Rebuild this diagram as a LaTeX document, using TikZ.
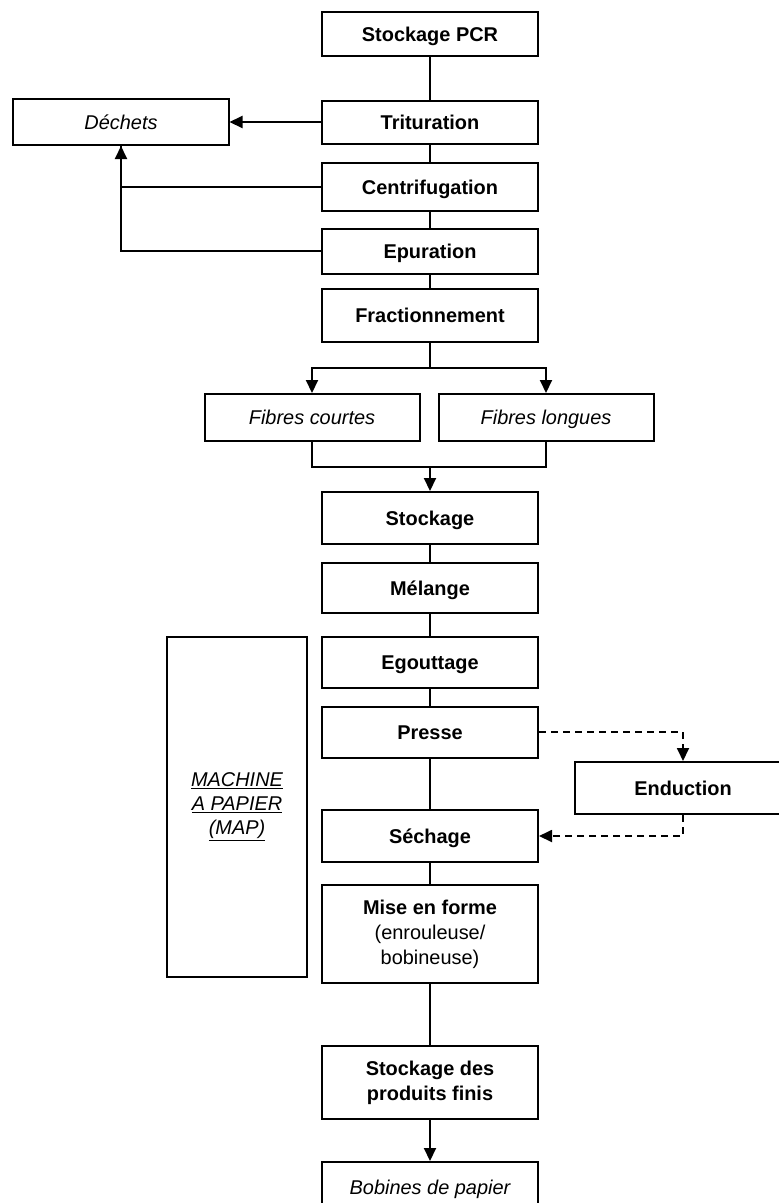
\documentclass[tikz,border=0pt]{standalone}
\usepackage{fontspec}
\setmainfont{Liberation Sans}
\usetikzlibrary{arrows.meta}
\begin{document}
\begin{tikzpicture}[x=1bp,y=-1bp,
  box/.style={draw, line width=2bp, minimum width=216bp, inner sep=0pt, align=center,
    font=\fontsize{20}{25}\selectfont\bfseries},
  ibox/.style={draw, line width=2bp, minimum width=215bp, inner sep=0pt, align=center,
    font=\fontsize{20}{25}\selectfont\itshape},
  oneline/.style={text height=14.5pt, text depth=0pt},
  conn/.style={line width=2bp},
  arr/.style={line width=2bp, -{Triangle[length=13bp,width=12bp]}},
  dsh/.style={line width=1.8bp, dash pattern=on 7bp off 5bp, -{Triangle[length=13bp,width=12bp]}},
]
\useasboundingbox (0,0) rectangle (779,1203);
\clip (0,0) rectangle (779,1203);

% main column
\node[box, oneline, minimum height=44bp] (pcr) at (430,34) {Stockage PCR};
\node[box, oneline, minimum height=43bp] (trit) at (430,122) {Trituration};
\node[box, oneline, minimum height=48bp] (centri) at (430,187) {Centrifugation};
\node[box, oneline, minimum height=45bp] (epur) at (430,251) {Epuration};
\node[box, oneline, minimum height=53pt] (frac) at (430,315.5) {Fractionnement};
\node[box, oneline, minimum height=52bp] (stock) at (430,518) {Stockage};
\node[box, oneline, minimum height=50bp] (melange) at (430,588) {Mélange};
\node[box, oneline, minimum height=51bp] (egout) at (430,662.5) {Egouttage};
\node[box, oneline, minimum height=51bp] (presse) at (430,732) {Presse};
\node[box, oneline, minimum height=52bp] (sechage) at (430,836) {Séchage};
\node[box, minimum height=98bp] (mise) at (430,934) {Mise en forme\\\mdseries(enrouleuse/\\\mdseries bobineuse)};
\node[box, minimum height=73bp] (spf) at (430,1082.5) {Stockage des\\produits finis};
\node[ibox, oneline, minimum width=216bp, minimum height=50bp] (bob) at (430,1187) {Bobines de papier};

% side nodes
\node[ibox, oneline, minimum height=46bp] (dech) at (121,122) {Déchets};
\node[ibox, oneline, minimum height=47bp] (fc) at (312,417.5) {Fibres courtes};
\node[ibox, oneline, minimum height=47bp] (fl) at (546,417.5) {Fibres longues};
\node[box, oneline, minimum height=52bp] (endu) at (683,788) {Enduction};
\node[draw, line width=2bp, minimum width=140bp, minimum height=340bp, inner sep=0pt,
  align=center, font=\fontsize{20}{24}\selectfont\itshape] (map) at (237,807)
  {\underline{MACHINE}\\\underline{A PAPIER}\\\underline{(MAP)}};

% main connectors
\draw[conn] (pcr) -- (trit);
\draw[conn] (trit) -- (centri);
\draw[conn] (centri) -- (epur);
\draw[conn] (epur) -- (frac);
\draw[conn] (stock) -- (melange);
\draw[conn] (melange) -- (egout);
\draw[conn] (egout) -- (presse);
\draw[conn] (presse) -- (sechage);
\draw[conn] (sechage) -- (mise);
\draw[conn] (mise) -- (spf);
\draw[arr] (spf) -- (bob);

% waste
\draw[arr] (trit.west) -- (dech.east |- trit.west);
\draw[conn] (epur.west) -| (dech.south);
\draw[arr] (centri.west) -| (dech.south);

% split / merge
\coordinate (sp) at (430,368);
\draw[conn] (frac.south) -- (sp);
\draw[arr] (sp) -| (fc.north);
\draw[arr] (sp) -| (fl.north);
\coordinate (mg) at (430,467);
\draw[conn] (fc.south) |- (mg);
\draw[conn] (fl.south) |- (mg);
\draw[arr] (mg) -- (stock.north);

% coating loop
\draw[dsh] (presse.east) -| (endu.north);
\draw[dsh] (endu.south) |- (sechage.east);
\end{tikzpicture}
\end{document}
